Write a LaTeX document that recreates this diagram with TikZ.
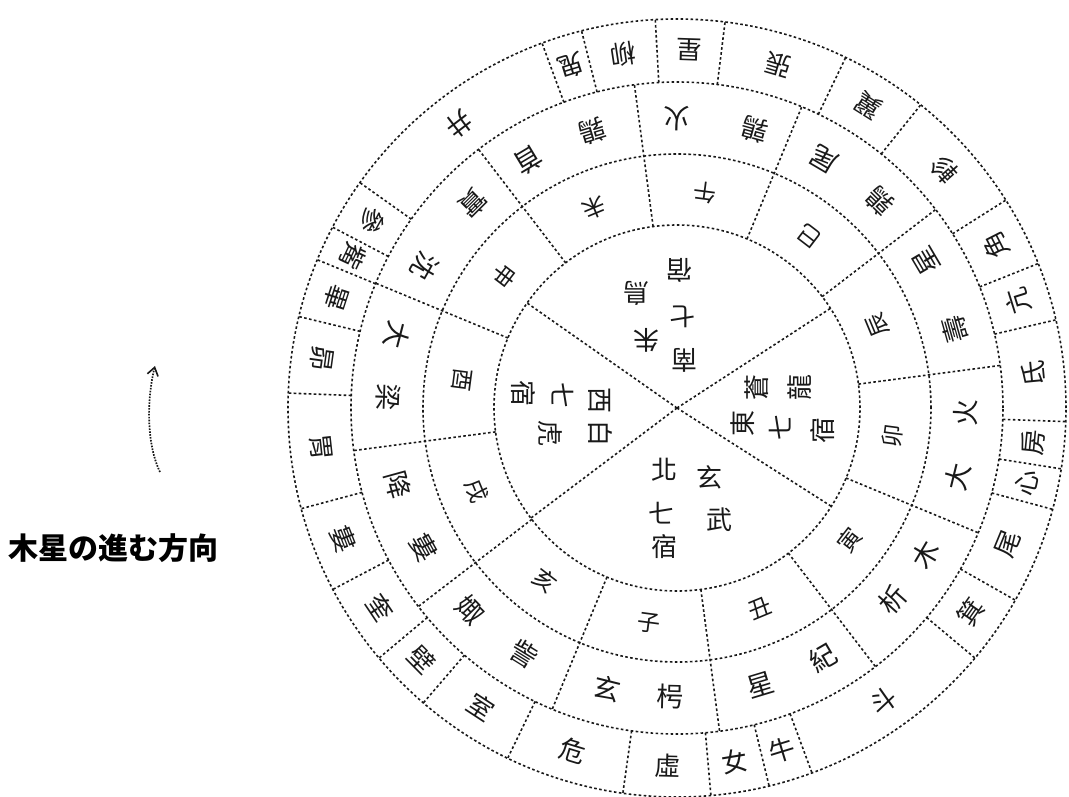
\documentclass[tikz,border=0pt]{standalone}
\usepackage{fontspec}
\newfontfamily\cjk{Noto Sans CJK TC}
\newfontfamily\jpfont{Noto Sans CJK JP}
\usetikzlibrary{arrows.meta}
\begin{document}
\begin{tikzpicture}[x=1pt,y=1pt,
  ring/.style={line width=1.6pt, black!90, dash pattern=on 2.6pt off 2.4pt},
  glyph/.style={font=\cjk\fontsize{26}{26}\selectfont, text=black!90, inner sep=0pt},
  mansion/.style={glyph},
  station/.style={glyph, font=\cjk\fontsize{27}{27}\selectfont},
  branch/.style={glyph, font=\cjk\fontsize{23}{23}\selectfont},
  palace/.style={glyph, font=\cjk\fontsize{26}{26}\selectfont},
  caption/.style={font=\jpfont\bfseries\fontsize{30}{30}\selectfont, inner sep=0pt, anchor=west},
  arrowline/.style={line width=1.7pt, black!90, dash pattern=on 1.6pt off 1.3pt, -{Straight Barb[length=8pt,width=11pt,line width=1.6pt]}}
]
\useasboundingbox (-677,-388) rectangle (392,408);

% circles
\coordinate (O) at (0,0);
\draw[ring] (O) circle[radius=183pt];
\draw[ring] (O) circle[radius=254pt];
\draw[ring] (O) circle[radius=326pt];
\draw[ring] (O) circle[radius=389pt];

% four palaces in the centre
\draw[ring] (O) -- (33:183pt);
\draw[ring] (O) -- (145:183pt);
\draw[ring] (O) -- (217:183pt);
\draw[ring] (O) -- (327.5:183pt);

% twelve divisions (branches and stations)
\foreach \k in {0,...,11}
  \draw[ring] ({7.5+30*\k}:183pt) -- ({7.5+30*\k}:326pt);

% twenty-eight mansions
\foreach \a in {13.1,21.8,32.3,51.2,64.3,82.9,93.2,104.2,110.3,144.6,152.3,157.6,166.4,177.8,195,207.8,220,229.3,244.2,262,275,283.7,290.3,320,330.4,344.9,351,358}
  \draw[ring] (\a:326pt) -- (\a:389pt);

% mansion labels
\foreach \c/\a [count=\i] in {氐/5.55,亢/17.45,角/27.05,軫/41.75,翼/57.75,張/73.6,星/88.05,柳/98.7,鬼/107.25,井/127.45,參/148.45,觜/154.95,畢/162,昴/172.1,胃/186.4,婁/201.4,奎/213.9,壁/224.65,室/236.75,危/253.1,虛/268.5,女/279.35,牛/287,斗/305.15,箕/325.2,尾/337.65,心/347.95,房/354.5}
  \node[mansion, rotate={\a+90}] (m\i) at (\a:358pt) {\c};

% station labels (two characters each)
\foreach \c/\a [count=\i] in {大/-13.8,火/-1,壽/15.8,星/30.5,鶉/45.5,尾/59.5,鶉/74.4,火/90,鶉/107,首/121,實/134.9,沈/150.6,大/165.4,梁/177.9,降/195.4,婁/208.9,娵/224.3,訾/238.2,玄/256,枵/268.6,星/286.8,紀/300.3,析/318.4,木/329.5}
  \node[station, rotate={\a+90}] (s\i) at (\a:289pt) {\c};

% branch labels
\foreach \c/\a [count=\i] in {卯/352.5,辰/22.5,巳/52.5,午/82.5,未/112.5,申/142.5,酉/172.5,戌/202.5,亥/232.5,子/262.5,丑/292.5,寅/322.5}
  \node[branch, rotate={\a+90}] (b\i) at (\a:217pt) {\c};

% palace texts
\foreach \c/\x/\y [count=\i] in {南/8/48,七/6/91,宿/3/138,朱/-30/68,鳥/-40/115}
  \node[palace, rotate=180] (pt\i) at (\x,\y) {\c};
\foreach \c/\x/\y [count=\i] in {西/-77/8,七/-114/13,宿/-154/15,白/-77/-25,虎/-127/-25}
  \node[palace, rotate=-90] (pl\i) at (\x,\y) {\c};
\foreach \c/\x/\y [count=\i] in {東/66/-15,七/103/-19,宿/146/-22,蒼/80/21,龍/123/21}
  \node[palace, rotate=90] (pr\i) at (\x,\y) {\c};
\foreach \c/\x/\y [count=\i] in {北/-12/-62,七/-15/-105,宿/-12/-139,玄/33/-69,武/43/-112}
  \node[palace] (pb\i) at (\x,\y) {\c};

% direction of Jupiter
\coordinate (aS) at (-517,-64);
\coordinate (aE) at (-522,42);
\draw[arrowline] (aS) .. controls (-531,-35) and (-530,10) .. (aE);
\node[caption] (cap) at (-669,-140) {木星の進む方向};
\end{tikzpicture}
\end{document}
